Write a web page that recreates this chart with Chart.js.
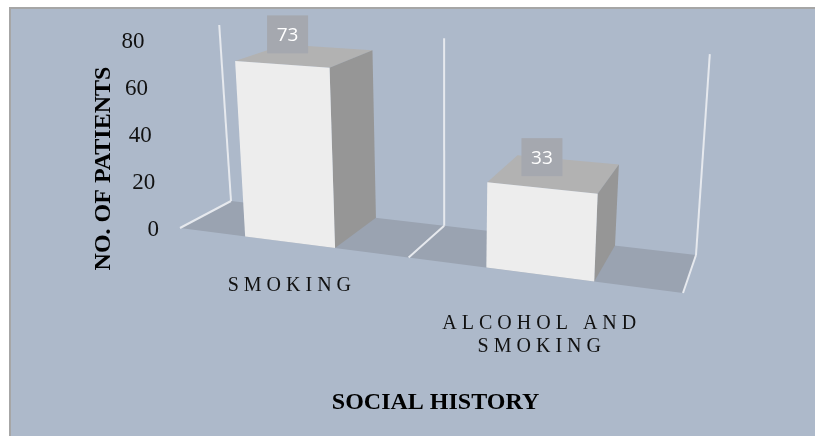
<!DOCTYPE html>
<html>
<head>
<meta charset="utf-8">
<script src="https://cdn.jsdelivr.net/npm/chart.js@4"></script>
<style>
  html, body { margin: 0; background: #fff; }
  canvas { display: block; }
</style>
</head>
<body>
<canvas id="socialChart" width="815" height="436"></canvas>
<script>
const categories = ["SMOKING", ["ALCOHOL AND", "SMOKING"]];
const patients = [73, 33];
const yMax = 80;
const yStep = 20;

const xTitle = "SOCIAL HISTORY";
const yTitle = "NO. OF PATIENTS";

// floor corners on screen, this is the 3D look of the chart
const floorFL = [180, 228];
const floorFR = [683, 293];
const floorBR = [696, 255];
const floorBL = [231, 201];

// unit square (u along categories, w into depth) -> floor quad
const homography = () => {
  const dx1 = floorFR[0] - floorBR[0], dy1 = floorFR[1] - floorBR[1];
  const dx2 = floorBL[0] - floorBR[0], dy2 = floorBL[1] - floorBR[1];
  const sx = floorFL[0] - floorFR[0] + floorBR[0] - floorBL[0];
  const sy = floorFL[1] - floorFR[1] + floorBR[1] - floorBL[1];
  const den = dx1 * dy2 - dx2 * dy1;
  const g = (sx * dy2 - dx2 * sy) / den;
  const h = (dx1 * sy - sx * dy1) / den;
  return {
    a: floorFR[0] - floorFL[0] + g * floorFR[0],
    b: floorBL[0] - floorFL[0] + h * floorBL[0],
    c: floorFL[0],
    d: floorFR[1] - floorFL[1] + g * floorFR[1],
    e: floorBL[1] - floorFL[1] + h * floorBL[1],
    f: floorFL[1],
    g, h,
  };
};
const H = homography();

// t = 0 on the floor, t = 1 at the top of the value axis
const project = (u, w, t) => {
  const q = H.g * u + H.h * w + 1;
  const x = (H.a * u + H.b * w + H.c) / q;
  const y = (H.d * u + H.e * w + H.f) / q;
  return [x + t * 0.055 * (x - 445), y - t * (176 + 0.46 * (y - 201))];
};

const poly = (ctx, pts, fill) => {
  ctx.beginPath();
  pts.forEach((p, i) => (i ? ctx.lineTo(p[0], p[1]) : ctx.moveTo(p[0], p[1])));
  ctx.closePath();
  ctx.fillStyle = fill;
  ctx.fill();
};

const line = (ctx, a, b) => {
  ctx.beginPath();
  ctx.moveTo(a[0], a[1]);
  ctx.lineTo(b[0], b[1]);
  ctx.stroke();
};

const bars3d = {
  id: "bars3d",
  beforeDraw(chart) {
    const { ctx, width, height } = chart;
    ctx.save();
    ctx.fillStyle = "#a6a6a6";
    ctx.fillRect(9, 7, width - 9, height - 7);
    ctx.fillStyle = "#adb9ca";
    ctx.fillRect(11, 9, width - 11, height - 9);
    ctx.restore();
  },
  afterDatasetsDraw(chart) {
    const { ctx, chartArea, scales } = chart;
    const fracU = (px) => (px - chartArea.left) / chartArea.width;
    const fracT = (px) => (chartArea.bottom - px) / chartArea.height;

    ctx.save();
    poly(ctx, [floorFL, floorFR, floorBR, floorBL], "#9aa3b1");

    // gridlines between the categories: up the back wall and along the floor
    ctx.strokeStyle = "#e6e9ee";
    ctx.lineWidth = 2;
    for (let i = 0; i <= categories.length; i++) {
      const u = i / categories.length;
      line(ctx, project(u, 0, 0), project(u, 1, 0));
      line(ctx, project(u, 1, 0), project(u, 1, 1));
    }

    // value axis labels follow the left edge of the floor
    ctx.fillStyle = "#111";
    ctx.font = "23px 'Liberation Serif'";
    ctx.textAlign = "right";
    ctx.textBaseline = "middle";
    scales.y.ticks.forEach((tick) => {
      const p = project(0, 0, fracT(scales.y.getPixelForValue(tick.value)));
      ctx.fillText(String(tick.value), p[0] - 21, p[1] + 2);
    });

    const bars = chart.getDatasetMeta(0).data;
    bars.forEach((bar, i) => {
      const u0 = fracU(bar.x - bar.width / 2);
      const u1 = fracU(bar.x + bar.width / 2);
      const t = fracT(bar.y);

      const fl = project(u0, 0, 0), fr = project(u1, 0, 0), br = project(u1, 1, 0);
      const tfl = project(u0, 0, t), tfr = project(u1, 0, t);
      const tbr = project(u1, 1, t), tbl = project(u0, 1, t);

      poly(ctx, [tfl, tfr, tbr, tbl], "#b2b2b2");
      poly(ctx, [tfr, tbr, br, fr], "#969696");
      poly(ctx, [tfl, tfr, fr, fl], "#ededed");

      // value box sits up and left of the middle of the top face
      const mid = project(fracU(bar.x), 0.5, t);
      const bx = mid[0] - 8.9 - 10 * t, by = mid[1] - 11.9 - 10 * t;
      ctx.fillStyle = "#a5a8af";
      ctx.fillRect(bx - 20.5, by - 19, 41, 38);
      ctx.fillStyle = "#fff";
      ctx.font = "19px 'Open Sans'";
      ctx.textAlign = "center";
      ctx.textBaseline = "middle";
      ctx.fillText(String(patients[i]), bx, by + 1);

      // category labels, letter spaced
      const front = project(fracU(bar.x), 0, 0);
      const lines = [].concat(categories[i]);
      ctx.fillStyle = "#111";
      ctx.font = "20px 'Liberation Serif'";
      ctx.letterSpacing = "5px";
      lines.forEach((txt, n) => {
        ctx.fillText(txt, front[0] + 2.5, front[1] + 44 + 5 * (lines.length - 1) + n * 23);
      });
      ctx.letterSpacing = "0px";
    });

    // axis titles
    ctx.fillStyle = "#000";
    ctx.font = "bold 24px 'Liberation Serif'";
    ctx.textAlign = "center";
    ctx.fillText(xTitle, 435.5, 403);
    ctx.translate(103.5, 168.5);
    ctx.rotate(-Math.PI / 2);
    ctx.fillText(yTitle, 0, 0);
    ctx.restore();
  },
};

new Chart(document.getElementById("socialChart").getContext("2d"), {
  type: "bar",
  data: {
    labels: categories,
    datasets: [
      {
        data: patients,
        backgroundColor: "rgba(0,0,0,0)",
        categoryPercentage: 1,
        barPercentage: 0.394,
      },
    ],
  },
  options: {
    responsive: false,
    animation: false,
    layout: { padding: { left: 180, right: 132, top: 40, bottom: 208 } },
    plugins: { legend: { display: false }, tooltip: { enabled: false } },
    scales: {
      x: { display: false },
      y: { display: false, min: 0, max: yMax, ticks: { stepSize: yStep } },
    },
  },
  plugins: [bars3d],
});
</script>
</body>
</html>
